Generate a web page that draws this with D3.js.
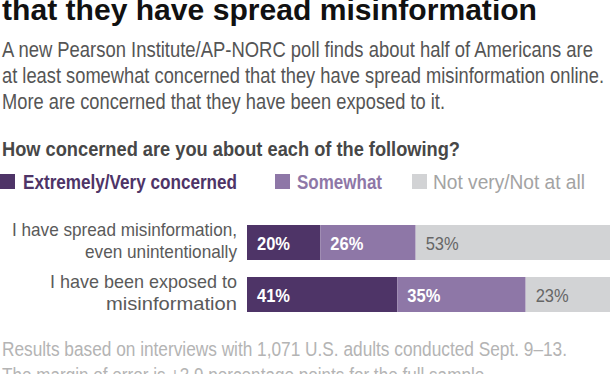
<!DOCTYPE html>
<html>
<head>
<meta charset="utf-8">
<script src="https://cdn.jsdelivr.net/npm/d3@7"></script>
<style>
  html, body { margin: 0; padding: 0; background: #fff; }
  svg { display: block; }
  text { font-family: "Liberation Sans Narrow", "Arial Narrow", "Liberation Sans", Arial, sans-serif; }
</style>
</head>
<body>
<svg id="chart" width="612" height="374"></svg>
<script>
// ---- data ----
const categories = ["spread", "exposed"];
const categoryLines = [
  ["I have spread misinformation,", "even unintentionally"],
  ["I have been exposed to", "misinformation"]
];
const seriesNames = ["Extremely/Very concerned", "Somewhat", "Not very/Not at all"];
const extremelyVery = [20, 41];
const somewhat = [26, 35];
const notVery = [53, 23];
const titleLine = "that they have spread misinformation";
const subtitleLines = [
  "A new Pearson Institute/AP-NORC poll finds about half of Americans are",
  "at least somewhat concerned that they have spread misinformation online.",
  "More are concerned that they have been exposed to it."
];
const question = "How concerned are you about each of the following?";
const footerLines = [
  "Results based on interviews with 1,071 U.S. adults conducted Sept. 9\u201313.",
  "The margin of error is \u00b13.9 percentage points for the full sample."
];

// ---- styles ----
const colors = ["#4e3467", "#8e77a7", "#d2d3d5"];
const legendTextColors = ["#4e3467", "#8e77a7", "#a3a3a3"];
const labelColors = ["#ffffff", "#ffffff", "#666666"];

const svg = d3.select("#chart");

// title
svg.append("text").attr("x", 2).attr("y", 20)
  .attr("font-family", "Liberation Sans, Arial, sans-serif")
  .attr("font-weight", "bold").attr("font-size", 29).attr("fill", "#111")
  .attr("textLength", 535).attr("lengthAdjust", "spacingAndGlyphs")
  .text(titleLine);

// subtitle
const subW = [591, 602, 443];
const subY = [57, 83, 109];
subtitleLines.forEach((t, i) => {
  svg.append("text").attr("x", 2).attr("y", subY[i])
    .attr("font-size", 21.5).attr("fill", "#555")
    .attr("textLength", subW[i]).attr("lengthAdjust", "spacingAndGlyphs")
    .text(t);
});

// question
svg.append("text").attr("x", 2).attr("y", 156)
  .attr("font-size", 20).attr("font-weight", "bold").attr("fill", "#474747")
  .attr("textLength", 458).attr("lengthAdjust", "spacingAndGlyphs")
  .text(question);

// legend
const legendSq = [0, 275, 412];
const legendTx = [23, 297, 433];
const legendTw = [214, 85, 152];
const legendWeight = ["bold", "bold", "normal"];
seriesNames.forEach((name, i) => {
  svg.append("rect").attr("x", legendSq[i]).attr("y", 174).attr("width", 15).attr("height", 15)
    .attr("fill", colors[i]);
  svg.append("text").attr("x", legendTx[i]).attr("y", 189)
    .attr("font-size", 20.5).attr("font-weight", legendWeight[i]).attr("fill", legendTextColors[i])
    .attr("textLength", legendTw[i]).attr("lengthAdjust", "spacingAndGlyphs")
    .text(name);
});

// scales
const x = d3.scaleLinear().domain([0, 99]).range([247, 610]);
const y = d3.scaleBand().domain(categories).range([216.5, 320.5])
  .paddingInner(17 / 52).paddingOuter(17 / 104);

const table = categories.map((c, i) => ({
  cat: c,
  [seriesNames[0]]: extremelyVery[i],
  [seriesNames[1]]: somewhat[i],
  [seriesNames[2]]: notVery[i]
}));
const stacked = d3.stack().keys(seriesNames)(table);

const layers = svg.append("g").selectAll("g").data(stacked).join("g")
  .attr("fill", (d, i) => colors[i]);

layers.selectAll("rect").data(d => d).join("rect")
  .attr("x", d => x(d[0]))
  .attr("y", d => y(d.data.cat))
  .attr("width", d => x(d[1]) - x(d[0]))
  .attr("height", y.bandwidth());

// value labels
stacked.forEach((layer, i) => {
  svg.append("g").selectAll("text").data(layer).join("text")
    .attr("x", d => x(d[0]) + 10)
    .attr("y", d => y(d.data.cat) + y.bandwidth() / 2 + 7)
    .attr("font-size", 19)
    .attr("font-weight", i < 2 ? "bold" : "normal")
    .attr("fill", labelColors[i])
    .attr("textLength", 33).attr("lengthAdjust", "spacingAndGlyphs")
    .text(d => (d[1] - d[0]) + "%");
});

// category labels
const catW = [[225, 152], [187, 131]];
categories.forEach((c, i) => {
  const top = y(c);
  categoryLines[i].forEach((line, j) => {
    svg.append("text").attr("x", 237).attr("y", top + 10.5 + j * 22.5)
      .attr("text-anchor", "end")
      .attr("font-size", 19).attr("fill", "#5a5a5a")
      .attr("textLength", catW[i][j]).attr("lengthAdjust", "spacingAndGlyphs")
      .text(line);
  });
});

// footer
const footW = [565, 487];
const footY = [356, 382];
footerLines.forEach((t, i) => {
  svg.append("text").attr("x", 2).attr("y", footY[i])
    .attr("font-size", 20).attr("fill", "#b4b4b4")
    .attr("textLength", footW[i]).attr("lengthAdjust", "spacingAndGlyphs")
    .text(t);
});
</script>
</body>
</html>
